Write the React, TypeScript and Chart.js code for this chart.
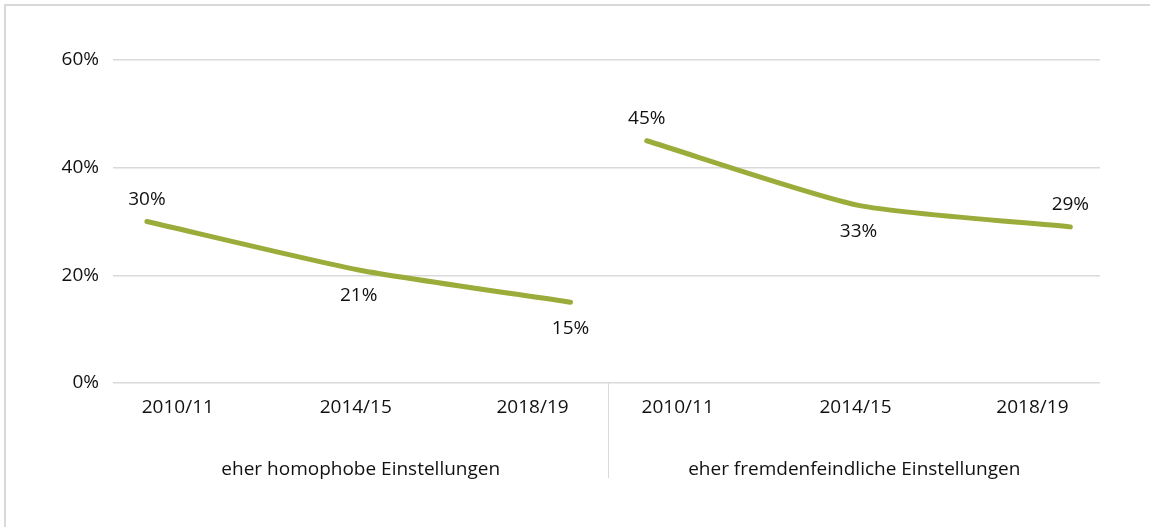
import React, { useEffect, useRef } from "react";
import { Chart, registerables } from "chart.js";

Chart.register(...registerables);

// ---- data ----
const categories = ["2010/11", "2014/15", "2018/19"];
const groups = ["eher homophobe Einstellungen", "eher fremdenfeindliche Einstellungen"];
const homophobe = [30, 21, 15];
const fremdenfeindlich = [45, 33, 29];
const yTicks = [0, 20, 40, 60];
const labelSides = [
  ["above", "below", "below"],
  ["above", "below", "above"],
];

// ---- layout constants ----
const GROUP_SHIFT = 2.36;
const LABEL_OFFSETS = [0.146, 0.986, 1.821];
const X_MIN = -0.16;
const X_MAX = 4.5;
const SEPARATOR = 2.175;
const FONT = "'Open Sans', 'Noto Sans', sans-serif";
const FONT_SIZE = 19;
const TEXT_COLOR = "#111111";
const LINE_COLOR = "#9bac3a";
const GRID_COLOR = "#d9d9d9";

const seriesList = [homophobe, fremdenfeindlich];

export default function App() {
  const ref = useRef<HTMLCanvasElement | null>(null);

  useEffect(() => {
    if (!ref.current) return;

    const framePlugin = {
      id: "frame",
      beforeDraw(chart: any) {
        const ctx = chart.ctx;
        ctx.save();
        ctx.strokeStyle = GRID_COLOR;
        ctx.lineWidth = 2;
        ctx.beginPath();
        ctx.moveTo(5, chart.height);
        ctx.lineTo(5, 5);
        ctx.lineTo(chart.width, 5);
        ctx.stroke();
        ctx.restore();
      },
    };

    const extrasPlugin = {
      id: "extras",
      afterDraw(chart: any) {
        const ctx = chart.ctx;
        const area = chart.chartArea;
        const xs = chart.scales.x;
        const sepX = Math.round(xs.getPixelForValue(SEPARATOR)) + 0.5;
        ctx.save();
        ctx.strokeStyle = GRID_COLOR;
        ctx.lineWidth = 1;
        ctx.beginPath();
        ctx.moveTo(sepX, area.bottom);
        ctx.lineTo(sepX, 478);
        ctx.stroke();

        ctx.fillStyle = TEXT_COLOR;
        ctx.font = `${FONT_SIZE}px ${FONT}`;
        ctx.textAlign = "center";
        ctx.textBaseline = "middle";
        const bounds = [
          [area.left, sepX],
          [sepX, area.right],
        ];
        groups.forEach((g, i) => {
          ctx.fillText(g, (bounds[i][0] + bounds[i][1]) / 2, 470);
        });

        chart.data.datasets.forEach((ds: any, di: number) => {
          const meta = chart.getDatasetMeta(di);
          meta.data.forEach((pt: any, i: number) => {
            const v = ds.data[i].y;
            const dy = labelSides[di][i] === "above" ? -22 : 26;
            ctx.fillText(v + "%", pt.x, pt.y + dy);
          });
        });
        ctx.restore();
      },
    };

    const chart = new Chart(ref.current, {
      type: "line",
      data: {
        datasets: seriesList.map((vals, g) => ({
          label: groups[g],
          data: vals.map((v, i) => ({ x: i + g * GROUP_SHIFT, y: v })),
          borderColor: LINE_COLOR,
          borderWidth: 5,
          pointRadius: 0,
          tension: 0.2,
          fill: false,
          borderCapStyle: "round",
        })),
      },
      options: {
        animation: false,
        responsive: false,
        layout: { padding: { left: 0, right: 50, top: 60, bottom: 0 } },
        plugins: {
          legend: { display: false },
          tooltip: { enabled: false },
        },
        scales: {
          x: {
            type: "linear",
            min: X_MIN,
            max: X_MAX,
            grid: { display: false, drawTicks: false },
            border: { display: false },
            afterBuildTicks: (scale: any) => {
              scale.ticks = groups.flatMap((_, g) =>
                LABEL_OFFSETS.map((o) => ({ value: g * GROUP_SHIFT + o }))
              );
            },
            afterFit: (scale: any) => {
              scale.height = 144;
            },
            ticks: {
              autoSkip: false,
              maxRotation: 0,
              padding: 13,
              color: TEXT_COLOR,
              font: { family: FONT, size: FONT_SIZE },
              callback: (_v: any, index: number) => categories[index % categories.length],
            },
          },
          y: {
            min: 0,
            max: 60,
            grid: { color: GRID_COLOR, lineWidth: 1.5, drawTicks: false },
            border: { display: false },
            afterBuildTicks: (scale: any) => {
              scale.ticks = yTicks.map((v) => ({ value: v }));
            },
            afterFit: (scale: any) => {
              scale.width = 113;
            },
            ticks: {
              padding: 14,
              color: TEXT_COLOR,
              font: { family: FONT, size: FONT_SIZE },
              callback: (v: any) => v + "%",
            },
          },
        },
      },
      plugins: [framePlugin, extrasPlugin],
    } as any);

    return () => chart.destroy();
  }, []);

  return (
    <div style={{ position: "absolute", left: 0, top: 0, width: 1150, height: 527, background: "#fff" }}>
      <canvas ref={ref} width={1150} height={527} style={{ display: "block" }} />
    </div>
  );
}
